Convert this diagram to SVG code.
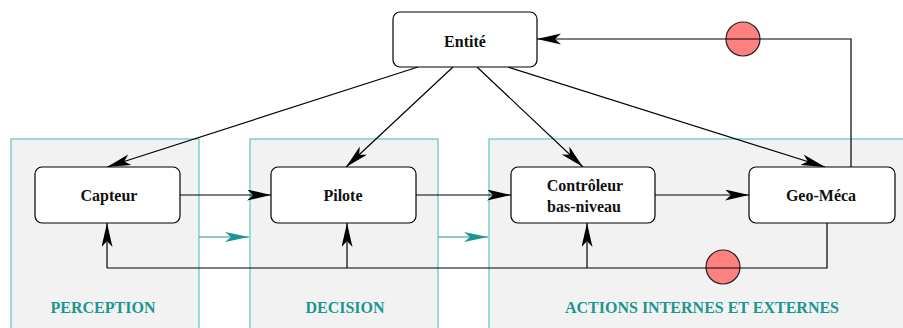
<svg xmlns="http://www.w3.org/2000/svg" width="903" height="328" viewBox="0 0 903 328">
<style>
.panel{fill:#f2f2f2;stroke:#5cc6c6;stroke-width:1.2}
.node{fill:#fff;stroke:#000;stroke-width:1.2}
.t{font-family:"Liberation Serif","Times New Roman",serif;font-weight:bold;font-size:16px;fill:#111;text-anchor:middle}
.lbl{font-family:"Liberation Serif","Times New Roman",serif;font-weight:bold;font-size:16px;fill:#1a968f;text-anchor:middle}
.c{fill:none;stroke:#000;stroke-width:1.2}
.ct{fill:none;stroke:#1a968f;stroke-width:1.2}
.red{fill:#ff8080;stroke:#222;stroke-width:1.2}
</style>
<defs>
<marker id="a" markerUnits="userSpaceOnUse" markerWidth="26" markerHeight="13" refX="24" refY="5.5" orient="auto">
<path d="M0,0 L24,5.5 L0,11 L6,5.5 z" fill="#000"/>
</marker>
<marker id="at" markerUnits="userSpaceOnUse" markerWidth="26" markerHeight="13" refX="24" refY="5.5" orient="auto">
<path d="M0,0.5 L24,5.5 L0,10.5 L6,5.5 z" fill="#1a968f"/>
</marker>
</defs>
<g id="panels">
<rect id="perception" class="panel" x="11" y="139" width="188" height="200"/>
<rect id="decision" class="panel" x="250" y="139" width="188" height="200"/>
<rect id="actions" class="panel" x="489" y="139" width="420" height="200"/>
<text class="lbl" x="103" y="313">PERCEPTION</text>
<text class="lbl" x="345" y="313">DECISION</text>
<text class="lbl" x="702" y="313">ACTIONS INTERNES ET EXTERNES</text>
</g>
<g id="connectors">
<circle class="red" cx="723" cy="267" r="17"/>
<circle class="red" cx="743" cy="39" r="17"/>
<line class="c" x1="418" y1="67" x2="107" y2="167" marker-end="url(#a)"/>
<line class="c" x1="453" y1="67" x2="346" y2="167" marker-end="url(#a)"/>
<line class="c" x1="477" y1="67" x2="583" y2="167" marker-end="url(#a)"/>
<line class="c" x1="508" y1="67" x2="825" y2="167" marker-end="url(#a)"/>
<line class="c" x1="180" y1="195" x2="271" y2="195" marker-end="url(#a)"/>
<line class="c" x1="416" y1="195" x2="511" y2="195" marker-end="url(#a)"/>
<line class="c" x1="655" y1="195" x2="749" y2="195" marker-end="url(#a)"/>
<line class="ct" x1="199" y1="237" x2="249" y2="237" marker-end="url(#at)"/>
<line class="ct" x1="438" y1="237" x2="488" y2="237" marker-end="url(#at)"/>
<polyline class="c" points="827,223 827,268 107,268"/>
<line class="c" x1="107" y1="268" x2="107" y2="223" marker-end="url(#a)"/>
<line class="c" x1="347" y1="268" x2="347" y2="223" marker-end="url(#a)"/>
<line class="c" x1="587" y1="268" x2="587" y2="223" marker-end="url(#a)"/>
<polyline class="c" points="851,167 851,39 537,39" marker-end="url(#a)"/>
</g>
<g id="entite">
<rect class="node" x="393" y="12" width="144" height="55" rx="7"/>
<text class="t" x="465" y="47">Entité</text>
</g>
<g id="capteur">
<rect class="node" x="35" y="167" width="145" height="56" rx="7"/>
<text class="t" x="109" y="201">Capteur</text>
</g>
<g id="pilote">
<rect class="node" x="271" y="167" width="145" height="56" rx="7"/>
<text class="t" x="343" y="201">Pilote</text>
</g>
<g id="controleur">
<rect class="node" x="511" y="167" width="144" height="56" rx="7"/>
<text class="t" x="585" y="191">Contrôleur</text>
<text class="t" x="584" y="212">bas-niveau</text>
</g>
<g id="geomeca">
<rect class="node" x="749" y="167" width="146" height="56" rx="7"/>
<text class="t" x="821" y="201">Geo-Méca</text>
</g>
</svg>
